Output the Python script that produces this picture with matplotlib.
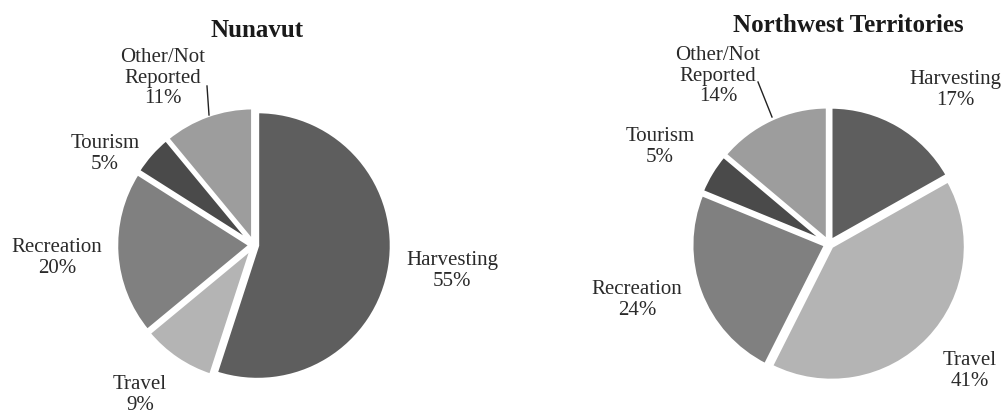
import matplotlib
matplotlib.use("Agg")
import matplotlib.pyplot as plt

# ---- data ----
categories = ["Harvesting", "Travel", "Recreation", "Tourism", "Other/Not\nReported"]
nunavut_values = [55, 9, 20, 5, 11]
nwt_values = [17, 41, 24, 5, 14]
titles = ["Nunavut", "Northwest Territories"]

# ---- style ----
colors = ["#5e5e5e", "#b4b4b4", "#808080", "#4a4a4a", "#9d9d9d"]
W, H = 1003, 412
plt.rcParams['font.family'] = ['Liberation Serif', 'DejaVu Serif']

fig = plt.figure(figsize=(W / 100, H / 100), dpi=100)
ax = fig.add_axes([0, 0, 1, 1])

def Y(y):
    return H - y

pies = [
    dict(values=nunavut_values, center=(254, 245), r=134, title=titles[0], title_xy=(257, 30),
         label_xy=[(452, 271), (140, 395), (57, 258), (105, 154), (163, 78)],
         leader=[(209, 115), (207, 86)]),
    dict(values=nwt_values, center=(829, 244), r=134, title=titles[1], title_xy=(848, 25),
         label_xy=[(955, 90), (970, 371), (637, 300), (660, 147), (718, 76)],
         leader=[(772, 117), (758, 82)]),
]

for p in pies:
    cx, cy = p["center"]
    ax.pie(p["values"], colors=colors, startangle=90, counterclock=False,
           center=(cx, Y(cy)), radius=p["r"], explode=[3.5] * 5,
           wedgeprops=dict(edgecolor="white", linewidth=2.5))
    total = sum(p["values"])
    for cat, v, (lx, ly) in zip(categories, p["values"], p["label_xy"]):
        ax.text(lx, Y(ly), f"{cat}\n{round(100 * v / total)}%", ha="center", va="center",
                multialignment="center", fontsize=15, color="#2a2a2a", linespacing=1.12)
    (x1, y1), (x2, y2) = p["leader"]
    ax.plot([x1, x2], [Y(y1), Y(y2)], color="#222222", lw=1)
    tx, ty = p["title_xy"]
    ax.text(tx, Y(ty), p["title"], ha="center", va="center", fontsize=18,
            fontweight="bold", color="#1a1a1a")

ax.set_xlim(0, W)
ax.set_ylim(0, H)
ax.set_aspect("auto")
ax.axis("off")

fig.savefig("out.png", dpi=100, facecolor="white")
